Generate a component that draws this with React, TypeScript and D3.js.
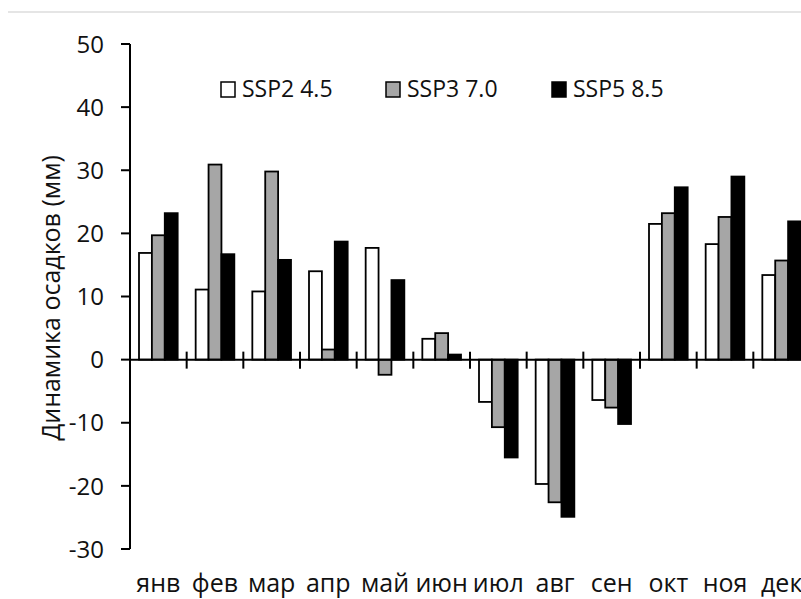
import React from "react";
import * as d3 from "d3";

const months = ["янв", "фев", "мар", "апр", "май", "июн", "июл", "авг", "сен", "окт", "ноя", "дек"];
const seriesNames = ["SSP2 4.5", "SSP3 7.0", "SSP5 8.5"];
const ssp245 = [16.9, 11.1, 10.8, 14.0, 17.7, 3.3, -6.7, -19.7, -6.4, 21.5, 18.3, 13.4];
const ssp370 = [19.7, 30.9, 29.8, 1.6, -2.4, 4.2, -10.7, -22.6, -7.6, 23.2, 22.6, 15.7];
const ssp585 = [23.2, 16.7, 15.8, 18.7, 12.6, 0.8, -15.5, -24.9, -10.2, 27.3, 29.0, 21.9];
const yTicks = [50, 40, 30, 20, 10, 0, -10, -20, -30];
const fills = ["#ffffff", "#a6a6a6", "#000000"];

export default function App() {
  const W = 801, H = 599;
  const x0 = 130, x1 = 810;
  const y = d3.scaleLinear().domain([-30, 50]).range([549, 44]);
  const x = d3.scaleBand<string>().domain(months).range([x0, x1]).paddingInner(0).paddingOuter(0);
  const groupPad = 9;
  const inner = d3.scaleBand<number>().domain([0, 1, 2]).range([groupPad, x.bandwidth() - groupPad]);
  const series = [ssp245, ssp370, ssp585];
  const font = "'Open Sans', sans-serif";
  const zero = y(0);
  const legendX = [221, 386, 552];

  return (
    <svg width={W} height={H} style={{ position: "absolute", left: 0, top: 0, background: "#fff" }}>
      <line x1={8} x2={W} y1={12} y2={12} stroke="#dcdcdc" strokeWidth={1.5} />
      {/* bars */}
      {months.map((m, i) => (
        <g key={m}>
          {series.map((s, k) => {
            const v = s[i];
            const top = Math.min(y(v), zero);
            const h = Math.abs(y(v) - zero);
            return (
              <rect
                key={k}
                x={(x(m) as number) + (inner(k) as number)}
                y={top}
                width={inner.bandwidth()}
                height={h}
                fill={fills[k]}
                stroke="#000"
                strokeWidth={1.8}
              />
            );
          })}
        </g>
      ))}
      {/* y axis */}
      <line x1={x0} x2={x0} y1={y(50)} y2={y(-30)} stroke="#000" strokeWidth={2} />
      {yTicks.map((t) => (
        <g key={t}>
          <line x1={x0 - 9} x2={x0} y1={y(t)} y2={y(t)} stroke="#000" strokeWidth={2} />
          <text x={104} y={y(t)} dy="0.36em" textAnchor="end" fontFamily={font} fontSize={24} fill="#111">
            {t}
          </text>
        </g>
      ))}
      {/* x axis */}
      <line x1={x0} x2={W} y1={zero} y2={zero} stroke="#000" strokeWidth={2} />
      {months.slice(1).map((m) => (
        <line key={m} x1={x(m) as number} x2={x(m) as number} y1={zero - 8} y2={zero + 9} stroke="#000" strokeWidth={2} />
      ))}
      {months.map((m) => (
        <text
          key={m}
          x={(x(m) as number) + x.bandwidth() / 2}
          y={592}
          textAnchor="middle"
          fontFamily={font}
          fontSize={25}
          fill="#111"
        >
          {m}
        </text>
      ))}
      {/* y title */}
      <text
        transform={`translate(60, 298) rotate(-90)`}
        textAnchor="middle"
        fontFamily={font}
        fontSize={25}
        fill="#111"
      >
        Динамика осадков (мм)
      </text>
      {/* legend */}
      {seriesNames.map((n, k) => (
        <g key={n}>
          <rect x={legendX[k]} y={82} width={14} height={15} fill={fills[k]} stroke="#000" strokeWidth={1.5} />
          <text x={legendX[k] + 21} y={97} fontFamily={font} fontSize={23} fill="#111">
            {n}
          </text>
        </g>
      ))}
    </svg>
  );
}
